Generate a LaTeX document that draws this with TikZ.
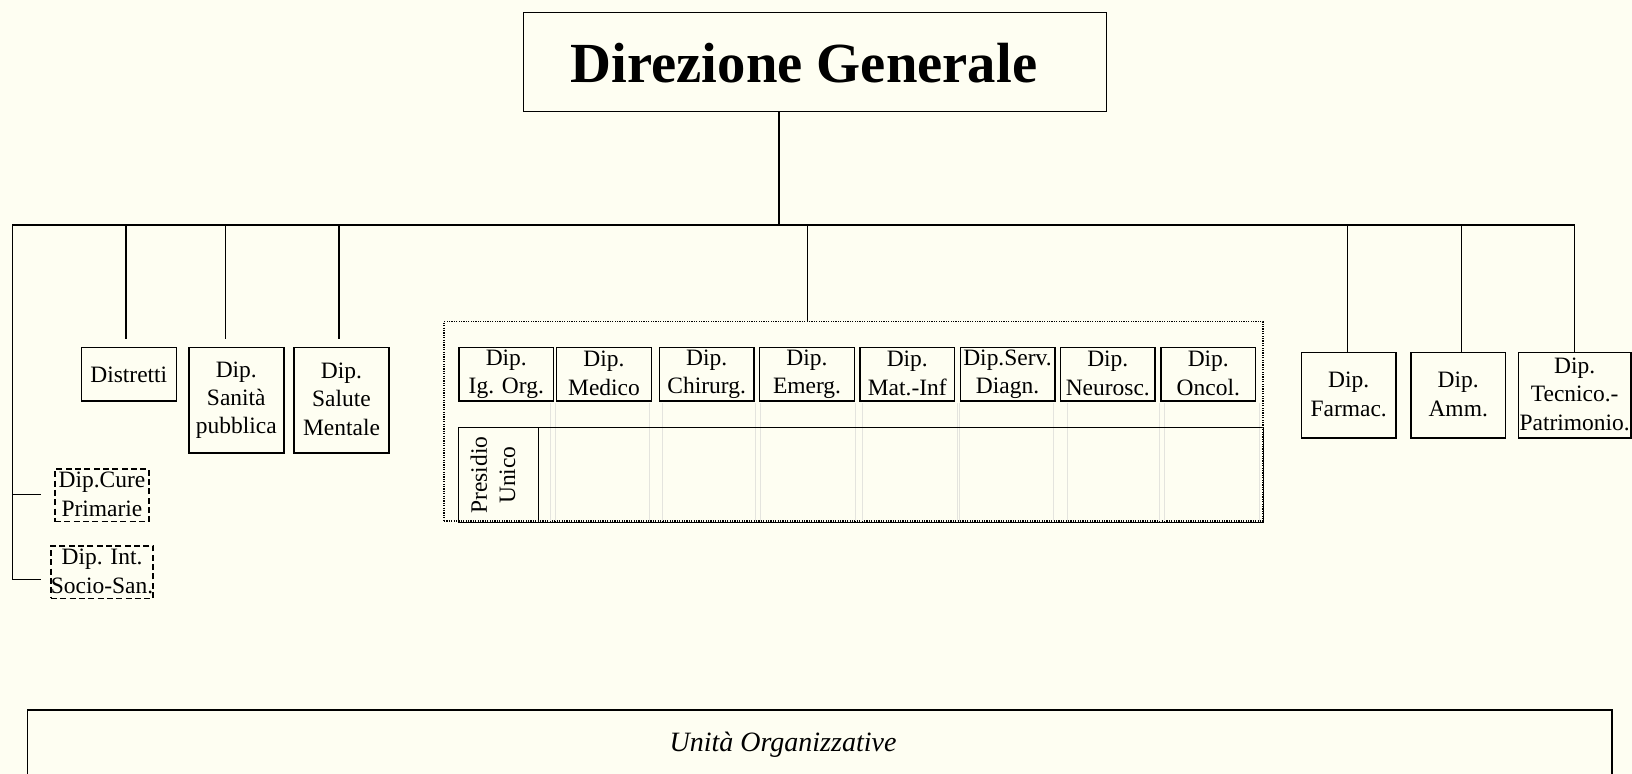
\documentclass[tikz,border=0pt]{standalone}
\usepackage{fontspec}
\setmainfont{Liberation Serif}
\definecolor{bg}{RGB}{254,254,242}
\definecolor{ghost}{RGB}{228,228,222}
\newcommand{\boxfont}{\fontsize{17.6}{21.3}\selectfont}
\newcommand{\sr}{\rule[-1.75pt]{0pt}{16pt}}
\begin{document}
\begin{tikzpicture}[x=0.75pt,y=-0.75pt,
  conn/.style={line width=1.1pt},
  box/.style={draw, line width=1.1pt, align=center, inner sep=0pt, font=\boxfont, execute at begin node=\sr, execute at end node=\sr},
  deptbox/.style={box, minimum width=70.9pt, minimum height=40.3pt},
  tallbox/.style={box, minimum width=71.25pt, minimum height=79.3pt},
  rightbox/.style={box, minimum width=70.9pt, minimum height=64pt},
  dashbox/.style={box, dash pattern=on 4.5pt off 2.5pt, minimum width=70.5pt, minimum height=39.4pt},
  ghostline/.style={draw=ghost, line width=0.6pt}]
\fill[bg] (0,0) rectangle (1632,774);
\useasboundingbox (0,0) rectangle (1632,774);

% title
\node[draw, line width=1.1pt, minimum width=437.3pt, minimum height=74.3pt, inner sep=0pt] (dg) at (815,62) {};
\node[font=\fontsize{42.5}{50}\selectfont\bfseries, inner sep=0pt] (dgtext) at (804,63) {Direzione Generale};

% left group
\node[box, minimum width=71.25pt, minimum height=40.3pt] (dist) at (128.8,374.2) {Distretti};
\node[tallbox] (sanita) at (236.3,400.2) {Dip.\\Sanità\\pubblica};
\node[tallbox] (salute) at (341.5,400.2) {Dip.\\Salute\\Mentale};
\node[dashbox] (cure) at (102,495.3) {Dip.Cure\\Primarie};
\node[dashbox] (socio) at (102,572.2) {Dip. Int.\\Socio-San.};

% ospedale group
\node[draw, line width=0.8pt, dash pattern=on 0.9pt off 0.9pt, minimum width=614.25pt, minimum height=149.5pt, inner sep=0pt] (osp) at (853.5,421.35) {};
\foreach \gx in {550,555,649,662,755,760,855,862,957,959,1053,1067,1159,1164,1259}
  \draw[ghostline] (\gx,403) -- (\gx,521);
\node[deptbox] (igorg) at (506.3,374.3) {Dip.\\Ig. Org.};
\node[deptbox] (medico) at (604,374.3) {Dip.\\Medico};
\node[deptbox] (chir) at (706.7,374.3) {Dip.\\Chirurg.};
\node[deptbox] (emerg) at (807,374.3) {Dip.\\Emerg.};
\node[deptbox] (matinf) at (907.3,374.3) {Dip.\\Mat.-Inf};
\node[deptbox] (serv) at (1007.5,374.3) {Dip.Serv.\\Diagn.};
\node[deptbox] (neuro) at (1107.8,374.3) {Dip.\\Neurosc.};
\node[deptbox] (oncol) at (1208.3,374.3) {Dip.\\Oncol.};
\node[draw, line width=1.1pt, minimum width=603.75pt, minimum height=71pt, inner sep=0pt] (presrow) at (860.8,475) {};
\node[draw, line width=1.1pt, minimum width=60pt, minimum height=71pt, inner sep=0pt] (pres) at (498.3,475) {};
\node[rotate=90, align=center, inner sep=0pt, font=\boxfont, execute at begin node=\sr, execute at end node=\sr] (prestext) at (494,475) {Presidio\\Unico};

% right group
\node[rightbox] (farm) at (1348.7,395.3) {Dip.\\Farmac.};
\node[rightbox] (amm) at (1458.2,395.3) {Dip.\\Amm.};
\node[box, minimum width=84.5pt, minimum height=64pt] (tec) at (1574.7,395.3) {Dip.\\Tecnico.-\\Patrimonio.};

% bottom
\node[draw, line width=1.1pt, minimum width=1188.2pt, minimum height=52.5pt, inner sep=0pt] (uo) at (819.85,745) {};
\node[font=\fontsize{21}{25}\selectfont\itshape, inner sep=0pt] (uotext) at (783,745) {Unità Organizzative};

% connectors
\coordinate (dgout) at (779,111.4);
\coordinate (busmid) at (779,225);
\coordinate (busL) at (12.3,225);
\coordinate (busR) at (1574.7,225);
\draw[conn] (dgout) -- (busmid);
\draw[conn] (busL) -- (busR);
\coordinate (j1) at (126,225);   \coordinate (e1) at (126,339);
\coordinate (j2) at (225.3,225); \coordinate (e2) at (225.3,339);
\coordinate (j3) at (339,225);   \coordinate (e3) at (339,339);
\draw[conn] (j1) -- (e1);
\draw[conn] (j2) -- (e2);
\draw[conn] (j3) -- (e3);
\coordinate (j4) at (807.7,225);
\draw[conn] (j4) -- (j4 |- osp.north);
\coordinate (j5) at (1347.7,225);
\coordinate (j6) at (1461.7,225);
\draw[conn] (j5) -- (j5 |- farm.north);
\draw[conn] (j6) -- (j6 |- amm.north);
\draw[conn] (busR) -- (tec.north);
\coordinate (lmid) at (12.3,494.3);
\coordinate (lbot) at (12.3,579.3);
\coordinate (b1) at (41.3,494.3);
\coordinate (b2) at (41.3,579.3);
\draw[conn] (busL) -- (lbot) -- (b2);
\draw[conn] (lmid) -- (b1);
\end{tikzpicture}
\end{document}
